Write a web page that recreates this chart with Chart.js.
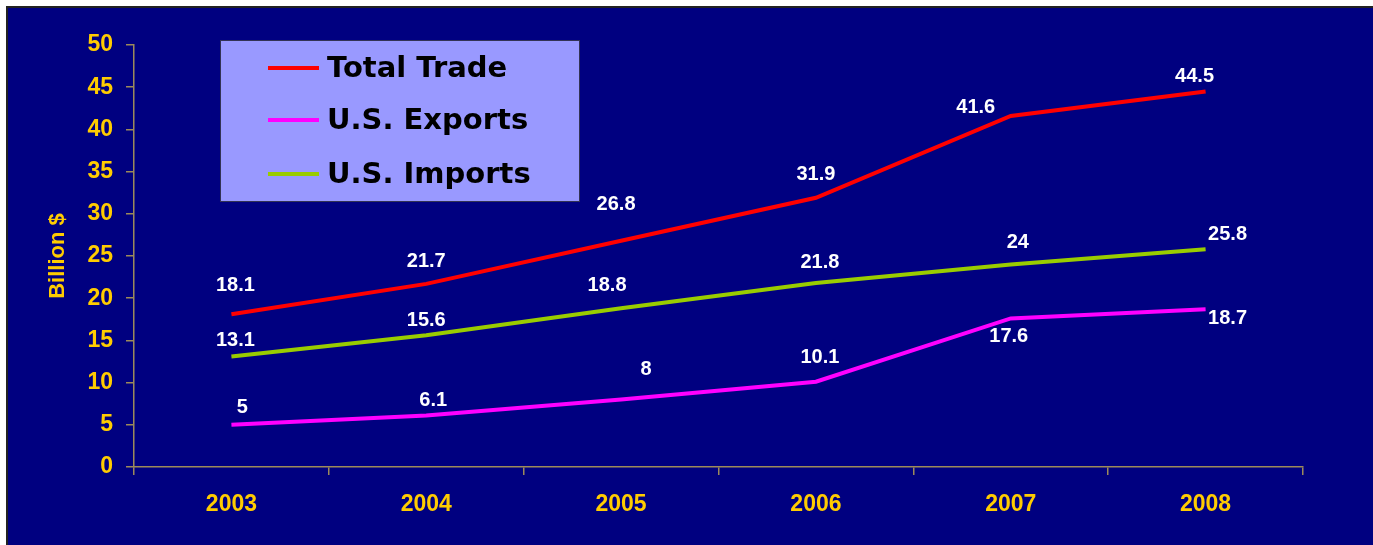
<!DOCTYPE html>
<html>
<head>
<meta charset="utf-8">
<title>Trade chart</title>
<script src="https://cdn.jsdelivr.net/npm/chart.js@4.4.1/dist/chart.umd.min.js"></script>
<style>
  html, body { margin: 0; padding: 0; background: #ffffff; overflow: hidden; }
  canvas { display: block; }
</style>
</head>
<body>
<canvas id="tradeChart" width="1373" height="545"></canvas>
<script>
// chart values
const years = ['2003', '2004', '2005', '2006', '2007', '2008'];
const totalTrade = [18.1, 21.7, 26.8, 31.9, 41.6, 44.5];
const usExports = [5, 6.1, 8, 10.1, 17.6, 18.7];
const usImports = [13.1, 15.6, 18.8, 21.8, 24, 25.8];
const yTicks = [0, 5, 10, 15, 20, 25, 30, 35, 40, 45, 50];

// where each value label sits relative to its point (dx, dy)
const labelOffsets = [
    [[4, -29], [0, -22], [-5, -36], [0, -23], [-35, -8], [-11, -15]],
    [[11, -17], [7, -15], [25, -30], [4, -24], [-2, 18], [22, 9]],
    [[4, -16], [0, -15], [-14, -23], [4, -21], [7, -22], [22, -15]]
];

const navy = '#000080';
const yellow = '#FFCC00';
const axisColor = '#9C8A5A';

// background panel with its dark edge
const panelBg = {
    id: 'panelBg',
    beforeDraw(chart) {
        const c = chart.ctx;
        c.save();
        c.fillStyle = '#222222';
        c.fillRect(6, 6, chart.width, chart.height);
        c.fillStyle = navy;
        c.fillRect(8, 8, chart.width, chart.height);
        c.restore();
    }
};

// white value labels next to each point
const valueLabels = {
    id: 'valueLabels',
    afterDatasetsDraw(chart) {
        const c = chart.ctx;
        c.save();
        c.fillStyle = '#ffffff';
        c.font = 'bold 20px "Liberation Sans", Arial, sans-serif';
        c.textAlign = 'center';
        c.textBaseline = 'middle';
        chart.data.datasets.forEach((ds, i) => {
            chart.getDatasetMeta(i).data.forEach((pt, j) => {
                const off = labelOffsets[i][j];
                c.fillText(String(ds.data[j]), pt.x + off[0], pt.y + off[1]);
            });
        });
        c.restore();
    }
};

// legend box drawn inside the plot
const boxLegend = {
    id: 'boxLegend',
    afterDraw(chart) {
        const c = chart.ctx;
        c.save();
        c.fillStyle = '#9999FF';
        c.fillRect(220, 40, 360, 162);
        c.strokeStyle = '#333355';
        c.lineWidth = 1;
        c.strokeRect(220.5, 40.5, 359, 161);
        const rows = [68, 120, 174];
        c.font = 'bold 29px "DejaVu Sans", Verdana, sans-serif';
        c.textBaseline = 'middle';
        chart.data.datasets.forEach((ds, i) => {
            c.strokeStyle = ds.borderColor;
            c.lineWidth = 4;
            c.beginPath();
            c.moveTo(268, rows[i]);
            c.lineTo(319, rows[i]);
            c.stroke();
            c.fillStyle = '#000000';
            c.fillText(ds.label, 327, rows[i] + 1);
        });
        c.restore();
    }
};

const ctx = document.getElementById('tradeChart');
new Chart(ctx, {
    type: 'line',
    data: {
        labels: years,
        datasets: [{
            label: 'Total Trade',
            data: totalTrade,
            borderColor: '#FF0000',
            backgroundColor: '#FF0000'
        }, {
            label: 'U.S. Exports',
            data: usExports,
            borderColor: '#FF00FF',
            backgroundColor: '#FF00FF'
        }, {
            label: 'U.S. Imports',
            data: usImports,
            borderColor: '#99CC00',
            backgroundColor: '#99CC00'
        }]
    },
    options: {
        responsive: false,
        animation: false,
        devicePixelRatio: 1,
        layout: { padding: { top: 45, right: 70, left: 0, bottom: 0 } },
        elements: {
            line: { borderWidth: 4, tension: 0 },
            point: { radius: 0, hoverRadius: 0 }
        },
        scales: {
            x: {
                offset: true,
                grid: {
                    offset: true,
                    drawOnChartArea: false,
                    color: axisColor,
                    tickLength: 8,
                    lineWidth: 1.5
                },
                border: { color: axisColor, width: 1.5 },
                ticks: {
                    color: yellow,
                    padding: 16,
                    font: { family: '"Liberation Sans", Arial, sans-serif', size: 23, weight: 'bold' }
                },
                afterFit: s => { s.height = 78; }
            },
            y: {
                min: 0,
                max: 50,
                afterBuildTicks: s => { s.ticks = yTicks.map(v => ({ value: v })); },
                grid: {
                    drawOnChartArea: false,
                    color: axisColor,
                    tickLength: 8,
                    lineWidth: 1.5
                },
                border: { color: axisColor, width: 1.5 },
                ticks: {
                    color: yellow,
                    padding: 13,
                    font: { family: '"Liberation Sans", Arial, sans-serif', size: 23, weight: 'bold' }
                },
                title: {
                    display: true,
                    text: 'Billion $',
                    color: yellow,
                    padding: { top: 45, bottom: 0 },
                    font: { family: '"Liberation Sans", Arial, sans-serif', size: 22, weight: 'bold' }
                },
                afterFit: s => { s.width = 134; }
            }
        },
        plugins: {
            legend: { display: false },
            tooltip: { enabled: false }
        }
    },
    plugins: [panelBg, valueLabels, boxLegend]
});
</script>
</body>
</html>
